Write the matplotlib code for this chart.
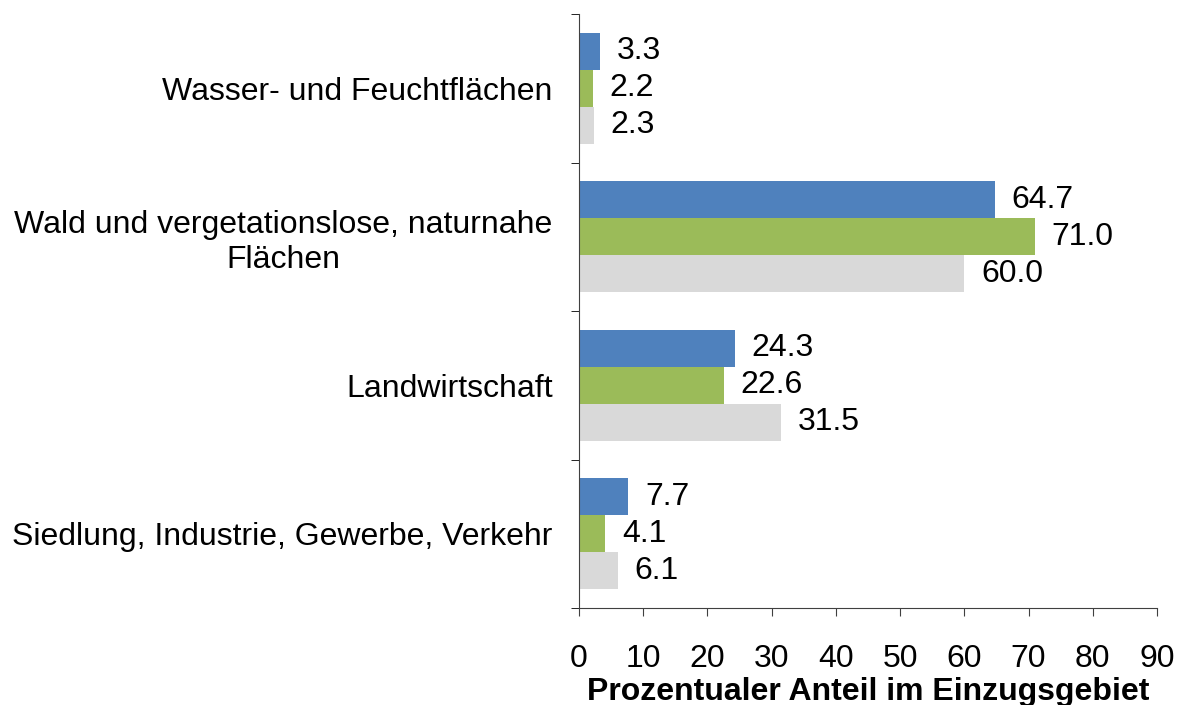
import numpy as np
import matplotlib.pyplot as plt
from matplotlib.ticker import FixedLocator, NullFormatter

# Daten
categories = ["Wasser- und Feuchtflächen",
              "Wald und vergetationslose, naturnahe\nFlächen",
              "Landwirtschaft",
              "Siedlung, Industrie, Gewerbe, Verkehr"]
series_blue = [3.3, 64.7, 24.3, 7.7]
series_green = [2.2, 71.0, 22.6, 4.1]
series_gray = [2.3, 60.0, 31.5, 6.1]
colors = ["#4F81BD", "#9BBB59", "#D9D9D9"]
x_ticks = [0, 10, 20, 30, 40, 50, 60, 70, 80, 90]

plt.rcParams['font.family'] = ['Liberation Sans', 'DejaVu Sans']

fig = plt.figure(figsize=(11.82, 7.05), dpi=100)
ax = fig.add_axes([0.4898, 0.1376, 0.4891, 0.8425])

y = np.arange(len(categories))
h = 0.25
for i, (vals, c) in enumerate(zip([series_blue, series_green, series_gray], colors)):
    pos = y + (i - 1) * h
    ax.barh(pos, vals, height=h, color=c)
    for p, v in zip(pos, vals):
        ax.annotate(f"{v:.1f}", (v, p), xytext=(12, 0), textcoords="offset points",
                    va="center", ha="left", fontsize=23)

ax.set_xlim(0, 90)
ax.set_ylim(3.5, -0.5)
ax.set_xticks(x_ticks)
ax.tick_params(axis='x', labelsize=23, length=6, direction='out', pad=20)

# Kategorien-Beschriftung, Striche an den Grenzen
ax.set_yticks(y)
ax.set_yticklabels(categories, fontsize=23, ha='right', multialignment='center')
ax.tick_params(axis='y', which='major', length=0, pad=19)
ax.yaxis.set_minor_locator(FixedLocator(np.arange(-0.5, len(categories), 1)))
ax.yaxis.set_minor_formatter(NullFormatter())
ax.tick_params(axis='y', which='minor', length=6, direction='out')

for s in ['top', 'right']:
    ax.spines[s].set_visible(False)
for s in ['left', 'bottom']:
    ax.spines[s].set_color('#404040')
ax.tick_params(colors='#404040', labelcolor='black')

ax.set_xlabel("Prozentualer Anteil im Einzugsgebiet", fontsize=23, fontweight='bold', labelpad=2)

fig.savefig("out.png", dpi=100)
